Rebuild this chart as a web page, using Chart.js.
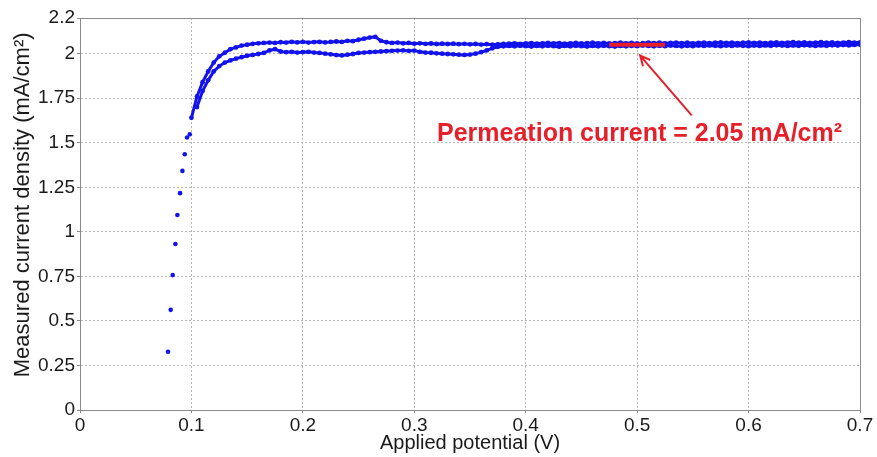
<!DOCTYPE html>
<html>
<head>
<meta charset="utf-8">
<script src="https://cdn.jsdelivr.net/npm/chart.js@4.4.1/dist/chart.umd.min.js"></script>
<style>
  html, body { margin: 0; padding: 0; background: #fff; }
  canvas { display: block; }
</style>
</head>
<body>
<canvas id="chart" width="877" height="457"></canvas>
<script>
// axis ticks
const xTicks = [0, 0.1, 0.2, 0.3, 0.4, 0.5, 0.6, 0.7];
const yTicks = [0, 0.25, 0.5, 0.75, 1, 1.25, 1.5, 1.75, 2, 2.2];

// steep rise, single column of points [V, mA/cm2]
const riseScan = [
  [0.0790, 0.327], [0.0814, 0.562], [0.0832, 0.757], [0.0856, 0.932], [0.0874, 1.094],
  [0.0898, 1.217], [0.0919, 1.342], [0.0940, 1.435], [0.0961, 1.529], [0.0985, 1.547]
];

// upper branch
const upperScan = [
  [0.100, 1.640], [0.105, 1.760], [0.110, 1.840], [0.115, 1.900], [0.120, 1.950],
  [0.125, 1.985], [0.130, 2.005], [0.135, 2.025], [0.140, 2.035], [0.145, 2.045],
  [0.150, 2.050], [0.155, 2.055], [0.160, 2.058], [0.165, 2.060], [0.170, 2.062],
  [0.175, 2.060], [0.180, 2.064], [0.185, 2.062], [0.190, 2.066], [0.195, 2.063],
  [0.200, 2.066], [0.205, 2.062], [0.210, 2.065], [0.215, 2.066], [0.220, 2.063],
  [0.225, 2.066], [0.230, 2.068], [0.235, 2.066], [0.240, 2.072], [0.245, 2.070],
  [0.250, 2.078], [0.255, 2.084], [0.260, 2.090], [0.265, 2.094], [0.270, 2.072],
  [0.275, 2.064], [0.280, 2.060], [0.285, 2.062], [0.290, 2.058], [0.295, 2.060],
  [0.300, 2.056], [0.305, 2.058], [0.310, 2.055], [0.315, 2.057], [0.320, 2.054],
  [0.325, 2.056], [0.330, 2.054], [0.335, 2.056], [0.340, 2.053], [0.345, 2.055],
  [0.350, 2.052], [0.355, 2.054], [0.360, 2.051], [0.365, 2.053], [0.370, 2.050],
  [0.375, 2.052], [0.380, 2.054], [0.385, 2.056], [0.390, 2.058], [0.395, 2.055],
  [0.400, 2.057], [0.405, 2.059], [0.410, 2.056], [0.415, 2.058], [0.420, 2.060],
  [0.425, 2.057], [0.430, 2.059], [0.435, 2.056], [0.440, 2.058], [0.445, 2.060],
  [0.450, 2.057], [0.455, 2.059], [0.460, 2.061], [0.465, 2.058], [0.470, 2.060],
  [0.475, 2.057], [0.480, 2.059], [0.485, 2.061], [0.490, 2.058], [0.495, 2.060],
  [0.500, 2.057], [0.505, 2.059], [0.510, 2.062], [0.515, 2.059], [0.520, 2.061],
  [0.525, 2.058], [0.530, 2.060], [0.535, 2.062], [0.540, 2.059], [0.545, 2.061],
  [0.550, 2.058], [0.555, 2.060], [0.560, 2.062], [0.565, 2.059], [0.570, 2.061],
  [0.575, 2.063], [0.580, 2.060], [0.585, 2.062], [0.590, 2.059], [0.595, 2.061],
  [0.600, 2.063], [0.605, 2.060], [0.610, 2.062], [0.615, 2.059], [0.620, 2.061],
  [0.625, 2.063], [0.630, 2.060], [0.635, 2.062], [0.640, 2.064], [0.645, 2.061],
  [0.650, 2.063], [0.655, 2.060], [0.660, 2.062], [0.665, 2.064], [0.670, 2.061],
  [0.675, 2.063], [0.680, 2.060], [0.685, 2.062], [0.690, 2.064], [0.695, 2.062],
  [0.700, 2.063]
];

// lower branch
const lowerScan = [
  [0.105, 1.700], [0.110, 1.790], [0.115, 1.850], [0.120, 1.900], [0.125, 1.930],
  [0.130, 1.950], [0.135, 1.962], [0.140, 1.972], [0.145, 1.980], [0.150, 1.988],
  [0.155, 1.993], [0.160, 1.998], [0.165, 2.004], [0.170, 2.018], [0.175, 2.025],
  [0.180, 2.012], [0.185, 2.008], [0.190, 2.010], [0.195, 2.006], [0.200, 2.008],
  [0.205, 2.010], [0.210, 2.006], [0.215, 2.004], [0.220, 2.000], [0.225, 1.996],
  [0.230, 1.992], [0.235, 1.990], [0.240, 1.994], [0.245, 1.998], [0.250, 2.004],
  [0.255, 2.006], [0.260, 2.008], [0.265, 2.010], [0.270, 2.012], [0.275, 2.014],
  [0.280, 2.016], [0.285, 2.017], [0.290, 2.018], [0.295, 2.016], [0.300, 2.017],
  [0.305, 2.010], [0.310, 2.006], [0.315, 2.005], [0.320, 2.002], [0.325, 2.000],
  [0.330, 1.998], [0.335, 1.996], [0.340, 1.994], [0.345, 1.993], [0.350, 1.995],
  [0.355, 2.000], [0.360, 2.008], [0.365, 2.018], [0.370, 2.030], [0.375, 2.038],
  [0.380, 2.041], [0.385, 2.043], [0.390, 2.041], [0.395, 2.044], [0.400, 2.042],
  [0.405, 2.040], [0.410, 2.043], [0.415, 2.041], [0.420, 2.044], [0.425, 2.042],
  [0.430, 2.039], [0.435, 2.043], [0.440, 2.041], [0.445, 2.044], [0.450, 2.042],
  [0.455, 2.040], [0.460, 2.043], [0.465, 2.041], [0.470, 2.044], [0.475, 2.042],
  [0.480, 2.040], [0.485, 2.043], [0.490, 2.041], [0.495, 2.044], [0.500, 2.042],
  [0.505, 2.045], [0.510, 2.043], [0.515, 2.041], [0.520, 2.044], [0.525, 2.042],
  [0.530, 2.045], [0.535, 2.043], [0.540, 2.041], [0.545, 2.044], [0.550, 2.042],
  [0.555, 2.045], [0.560, 2.043], [0.565, 2.046], [0.570, 2.044], [0.575, 2.042],
  [0.580, 2.045], [0.585, 2.043], [0.590, 2.046], [0.595, 2.044], [0.600, 2.042],
  [0.605, 2.045], [0.610, 2.043], [0.615, 2.046], [0.620, 2.044], [0.625, 2.047],
  [0.630, 2.045], [0.635, 2.043], [0.640, 2.046], [0.645, 2.044], [0.650, 2.047],
  [0.655, 2.045], [0.660, 2.043], [0.665, 2.046], [0.670, 2.044], [0.675, 2.047],
  [0.680, 2.045], [0.685, 2.048], [0.690, 2.046], [0.695, 2.049], [0.700, 2.051]
];

// permeation current marker
const permeationLevel = 2.05;
const permeationSpan = [0.475, 0.525];
const noteText = 'Permeation current = 2.05 mA/cm\u00B2';
const noteAnchor = [0.3204, 1.508];
const arrowTail = [0.549, 1.654];
const arrowTip = [0.5027, 1.989];

const BLUE = '#1212ee';
const RED = '#e5202a';
const FONT = "'Liberation Sans', Arial, sans-serif";

const toPoints = rows => rows.map(([x, y]) => ({ x, y }));

const annotate = {
  id: 'annotate',
  afterDraw(chart) {
    const { ctx, chartArea: a, scales: { x, y } } = chart;
    ctx.save();
    // box
    ctx.strokeStyle = '#8a8a8a';
    ctx.lineWidth = 1;
    ctx.strokeRect(Math.round(a.left) + 0.5, Math.round(a.top) + 0.5,
      Math.round(a.right - a.left), Math.round(a.bottom - a.top));

    // arrow
    const x1 = x.getPixelForValue(arrowTail[0]), y1 = y.getPixelForValue(arrowTail[1]);
    const x2 = x.getPixelForValue(arrowTip[0]), y2 = y.getPixelForValue(arrowTip[1]);
    ctx.strokeStyle = RED;
    ctx.lineWidth = 2;
    ctx.beginPath();
    ctx.moveTo(x1, y1);
    ctx.lineTo(x2, y2);
    const ang = Math.atan2(y2 - y1, x2 - x1);
    const head = 11;
    ctx.moveTo(x2 - head * Math.cos(ang - 0.45), y2 - head * Math.sin(ang - 0.45));
    ctx.lineTo(x2, y2);
    ctx.lineTo(x2 - head * Math.cos(ang + 0.45), y2 - head * Math.sin(ang + 0.45));
    ctx.stroke();

    // label
    ctx.fillStyle = RED;
    ctx.font = 'bold 25px ' + FONT;
    ctx.textBaseline = 'alphabetic';
    ctx.textAlign = 'left';
    ctx.fillText(noteText, x.getPixelForValue(noteAnchor[0]), y.getPixelForValue(noteAnchor[1]));
    ctx.restore();
  }
};

const branch = rows => ({
  data: toPoints(rows),
  showLine: true,
  borderColor: BLUE,
  borderWidth: 3,
  backgroundColor: BLUE,
  pointBorderWidth: 0,
  pointRadius: 2.4
});

new Chart(document.getElementById('chart'), {
  type: 'scatter',
  data: {
    datasets: [
      {
        type: 'line',
        data: permeationSpan.map(v => ({ x: v, y: permeationLevel })),
        borderColor: RED,
        borderWidth: 4,
        pointRadius: 0
      },
      { data: toPoints(riseScan), backgroundColor: BLUE, borderWidth: 0, pointRadius: 2.3 },
      branch(upperScan),
      branch(lowerScan)
    ]
  },
  options: {
    responsive: false,
    animation: false,
    devicePixelRatio: 1,
    layout: { padding: { top: 18, right: 17, left: 0, bottom: 0 } },
    plugins: { legend: { display: false }, tooltip: { enabled: false } },
    scales: {
      x: {
        type: 'linear',
        min: 0,
        max: 0.7,
        afterBuildTicks: s => { s.ticks = xTicks.map(v => ({ value: v })); },
        afterFit: s => { s.height = 47; },
        ticks: {
          callback: v => String(v),
          color: '#1a1a1a',
          font: { family: FONT, size: 19 },
          padding: 1,
          maxRotation: 0
        },
        grid: { color: '#b8b8b8', lineWidth: 1, tickLength: 3, tickColor: '#8a8a8a' },
        border: { display: true, color: '#8a8a8a', dash: [2, 2] },
        title: {
          display: true,
          text: 'Applied potential (V)',
          color: '#1a1a1a',
          font: { family: FONT, size: 20 },
          padding: { top: 0, bottom: 2 }
        }
      },
      y: {
        type: 'linear',
        min: 0,
        max: 2.2,
        afterBuildTicks: s => { s.ticks = yTicks.map(v => ({ value: v })); },
        afterFit: s => { s.width = 80; },
        ticks: {
          callback: v => String(v),
          color: '#1a1a1a',
          font: { family: FONT, size: 19 },
          padding: 2
        },
        grid: { color: '#b8b8b8', lineWidth: 1, tickLength: 3, tickColor: '#8a8a8a' },
        border: { display: true, color: '#8a8a8a', dash: [2, 2] },
        title: {
          display: true,
          text: '   Measured current density (mA/cm\u00B2)',
          color: '#1a1a1a',
          font: { family: FONT, size: 22 },
          padding: { top: 10, bottom: 0 }
        }
      }
    }
  },
  plugins: [annotate]
});
</script>
</body>
</html>
